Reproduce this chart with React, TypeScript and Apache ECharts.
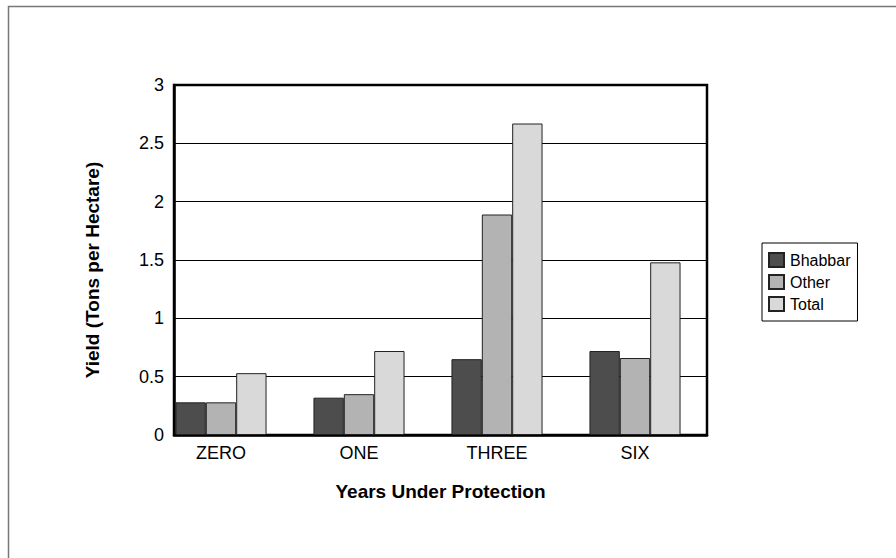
import React, { useEffect, useRef } from "react";
import * as echarts from "echarts";

const categories = ["ZERO", "ONE", "THREE", "SIX"];
const bhabbar = [0.28, 0.32, 0.65, 0.72];
const other = [0.28, 0.35, 1.89, 0.66];
const total = [0.53, 0.72, 2.67, 1.48];
const seriesNames = ["Bhabbar", "Other", "Total"];
const xTitle = "Years Under Protection";
const yTitle = "Yield (Tons per Hectare)";

const FONT = '"Liberation Sans", Arial, Helvetica, sans-serif';

export default function App() {
  const ref = useRef<HTMLDivElement>(null);
  useEffect(() => {
    document.body.style.margin = "0";
    const chart = echarts.init(ref.current!, null, { renderer: "svg" });
    const barStyle = (color: string) => ({
      color,
      borderColor: "#222",
      borderWidth: 1,
    });
    chart.setOption({
      animation: false,
      backgroundColor: "#fff",
      textStyle: { fontFamily: FONT },
      grid: [
        { left: 152, right: 192, top: 85, bottom: 123, show: false },
        {
          left: 174,
          right: 189,
          top: 85,
          bottom: 123,
          show: true,
          borderColor: "#000",
          borderWidth: 2.5,
          backgroundColor: "transparent",
        },
      ],
      legend: {
        orient: "vertical",
        left: 762,
        top: 243,
        data: seriesNames,
        itemWidth: 15,
        itemHeight: 14,
        itemGap: 6,
        padding: [9, 7, 9, 6],
        borderColor: "#000",
        borderWidth: 1,
        borderRadius: 0,
        textStyle: { fontFamily: FONT, fontSize: 16, color: "#000", padding: [0, 0, 0, 1] },
        icon: "rect",
      },
      xAxis: [
        {
          type: "category",
          gridIndex: 0,
          data: categories,
          axisLine: { show: false },
          axisTick: { show: false },
          axisLabel: { fontFamily: FONT, fontSize: 18, color: "#000", margin: 9 },
        },
        {
          type: "category",
          gridIndex: 1,
          data: categories,
          axisLine: { show: true, lineStyle: { color: "#000", width: 2.5 } },
          axisTick: { show: false },
          axisLabel: { show: false },
          name: xTitle,
          nameLocation: "middle",
          nameGap: 47,
          nameTextStyle: { fontFamily: FONT, fontSize: 19, fontWeight: "bold", color: "#000" },
        },
      ],
      yAxis: [
        { type: "value", gridIndex: 0, min: 0, max: 3, interval: 0.5, show: false },
        {
          type: "value",
          gridIndex: 1,
          min: 0,
          max: 3,
          interval: 0.5,
          axisLine: { show: true, lineStyle: { color: "#000", width: 2.5 } },
          axisTick: { show: false },
          axisLabel: { fontFamily: FONT, fontSize: 18, color: "#000", margin: 10 },
          splitLine: { show: true, lineStyle: { color: "#000", width: 1 } },
        },
      ],
      graphic: [
        {
          type: "rect",
          shape: { x: 8.5, y: 6.5, width: 1000, height: 1000 },
          style: { fill: "none", stroke: "#777", lineWidth: 1.5 },
          silent: true,
        },
        {
          type: "text",
          x: 92,
          y: 270,
          rotation: Math.PI / 2,
          style: {
            text: yTitle,
            fontFamily: FONT,
            fontSize: 19,
            fontWeight: "bold",
            fill: "#000",
            align: "center",
            verticalAlign: "middle",
          },
        },
      ],
      series: [
        {
          name: seriesNames[0],
          type: "bar",
          xAxisIndex: 0,
          yAxisIndex: 0,
          data: bhabbar,
          barGap: "0%",
          barCategoryGap: "34%",
          itemStyle: barStyle("#4d4d4d"),
        },
        {
          name: seriesNames[1],
          type: "bar",
          xAxisIndex: 0,
          yAxisIndex: 0,
          data: other,
          barGap: "0%",
          barCategoryGap: "34%",
          itemStyle: barStyle("#b3b3b3"),
        },
        {
          name: seriesNames[2],
          type: "bar",
          xAxisIndex: 0,
          yAxisIndex: 0,
          data: total,
          barGap: "0%",
          barCategoryGap: "34%",
          itemStyle: barStyle("#d9d9d9"),
        },
      ],
    });
    return () => chart.dispose();
  }, []);
  return <div ref={ref} style={{ width: 896, height: 558 }} />;
}
